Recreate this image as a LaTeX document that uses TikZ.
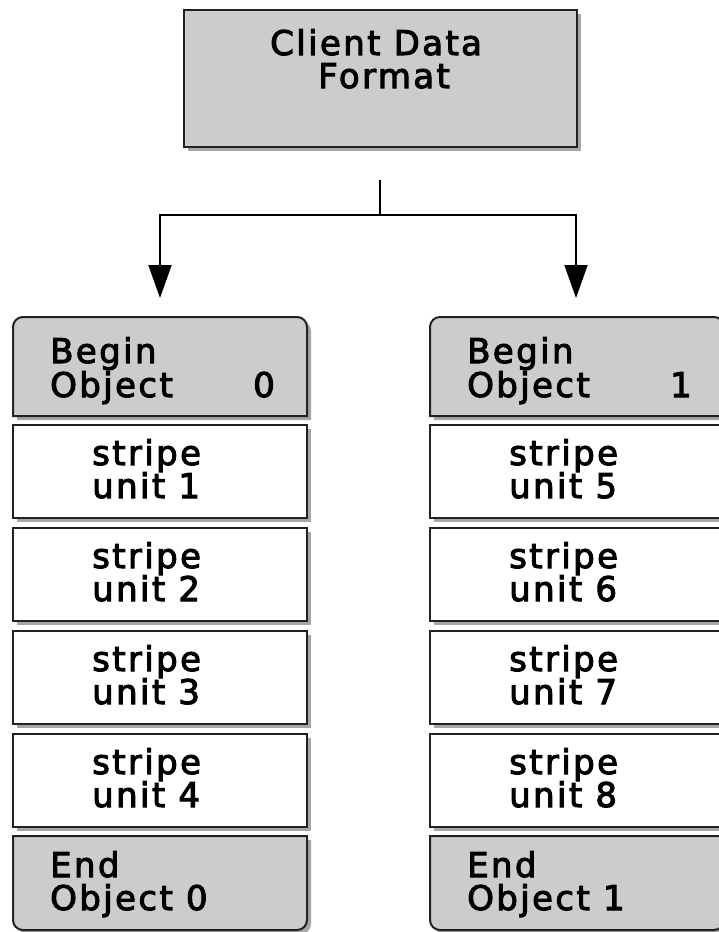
\documentclass[tikz,border=0pt]{standalone}
\usepackage{fontspec}
\setmainfont{DejaVu Sans}
\newfontfamily\boxfont{DejaVu Sans}[LetterSpace=7,FakeBold=3]
\usetikzlibrary{shadows,arrows.meta}
\definecolor{boxgray}{HTML}{CCCCCC}
\definecolor{edgecol}{HTML}{222222}
\tikzset{
  boxline/.style={draw=edgecol, line width=2pt},
  shade/.style={drop shadow={shadow xshift=4pt, shadow yshift=-4pt, opacity=0.35, fill=black}},
  graybox/.style={boxline, fill=boxgray, shade},
  whitebox/.style={boxline, fill=white, shade},
  stripebox/.style={whitebox, minimum width=294pt, minimum height=93pt, inner sep=0pt},
  lbl/.style={anchor=base west, inner sep=0pt, font=\fontsize{34}{34}\selectfont\boxfont},
  conn/.style={draw=black, line width=2pt},
  tip/.style={-{Triangle[length=33pt,width=23pt]}}
}
\begin{document}
\begin{tikzpicture}[x=1pt,y=-1pt]
\useasboundingbox (0,0) rectangle (718,932);
\fill[white] (0,0) rectangle (718,932);
% top box
\node[graybox, minimum width=393pt, minimum height=137pt, inner sep=0pt] (top) at (380.5,78.5) {};
\node[lbl] (t1) at (270,55) {Client Data};
\node[lbl] (t2) at (318,88) {Format};
% connectors
\coordinate (split) at (380,180);
\coordinate (junc) at (380,215);
\coordinate (endL) at (160,298);
\coordinate (endR) at (576,298);
\draw[conn] (split) -- (junc);
\draw[conn,tip] (junc) -| (endL);
\draw[conn,tip] (junc) -| (endR);
% columns
\foreach \dx/\obj/\first in {0/0/1, 417/1/5} {
  \begin{scope}[xshift=\dx pt]
    \draw[graybox] (13,416) [rounded corners=10pt] -- (13,317) -- (307,317) [sharp corners] -- (307,416) -- cycle;
    \node[lbl] (b\obj a) at (50,363) {Begin};
    \node[lbl] (b\obj b) at (50,397) {Object};
    \node[lbl] (b\obj c) at (253,397) {\obj};
    \foreach \k in {0,1,2,3} {
      \pgfmathtruncatemacro{\num}{\first+\k}
      \node[stripebox] (s\num) at (160,{471.5+103*\k}) {};
      \node[lbl] (s\num a) at (92,{465+103*\k}) {stripe};
      \node[lbl] (s\num b) at (92,{498+103*\k}) {unit \num};
    }
    \draw[graybox] (307,836) -- (13,836) [rounded corners=10pt] -- (13,930) -- (307,930) [sharp corners] -- cycle;
    \node[lbl] (e\obj a) at (50,877) {End};
    \node[lbl] (e\obj b) at (50,910) {Object \obj};
  \end{scope}
}
\end{tikzpicture}
\end{document}
